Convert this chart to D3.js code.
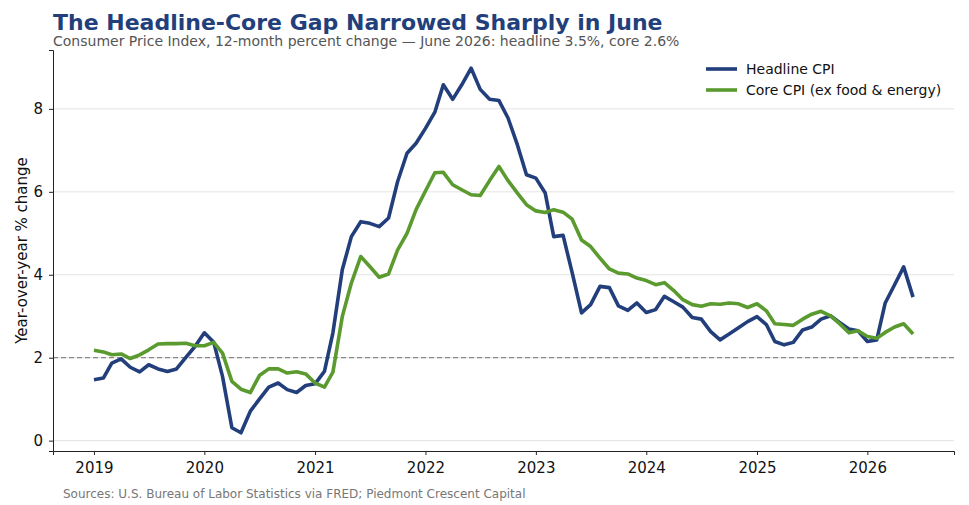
<!DOCTYPE html>
<html>
<head>
<meta charset="utf-8">
<script src="https://cdn.jsdelivr.net/npm/d3@7"></script>
<style>
  body { margin: 0; background: #fff; }
  svg text { font-family: "DejaVu Sans", sans-serif; }
</style>
</head>
<body>
<svg id="chart" width="969" height="505"></svg>
<script>
// monthly series, Jan 2019 .. Jun 2026
var startMonth = '2019-01';
var headline = [
  1.47, 1.51, 1.87, 1.97, 1.77, 1.66, 1.83, 1.73, 1.67, 1.73, 2.01, 2.27,
  2.60, 2.37, 1.55, 0.31, 0.19, 0.71, 1.00, 1.29, 1.39, 1.23, 1.16, 1.33,
  1.37, 1.67, 2.60, 4.12, 4.92, 5.28, 5.24, 5.16, 5.37, 6.25, 6.93, 7.17,
  7.53, 7.92, 8.58, 8.23, 8.58, 8.98, 8.47, 8.23, 8.20, 7.78, 7.13, 6.41,
  6.33, 5.97, 4.92, 4.95, 4.05, 3.08, 3.28, 3.72, 3.69, 3.25, 3.14, 3.32,
  3.09, 3.16, 3.48, 3.35, 3.22, 2.97, 2.93, 2.63, 2.43, 2.57, 2.72, 2.87,
  2.99, 2.80, 2.39, 2.31, 2.37, 2.67, 2.74, 2.93, 3.01, 2.85, 2.69, 2.65,
  2.39, 2.43, 3.32, 3.76, 4.19, 3.46
];
var core = [
  2.18, 2.14, 2.07, 2.09, 1.98, 2.07, 2.19, 2.33, 2.34, 2.34, 2.35, 2.29,
  2.29, 2.37, 2.11, 1.43, 1.24, 1.16, 1.57, 1.73, 1.73, 1.63, 1.66, 1.61,
  1.39, 1.29, 1.65, 2.99, 3.80, 4.44, 4.20, 3.94, 4.02, 4.60, 5.00, 5.57,
  6.02, 6.46, 6.47, 6.17, 6.05, 5.93, 5.91, 6.27, 6.61, 6.27, 5.97, 5.69,
  5.54, 5.50, 5.57, 5.51, 5.34, 4.84, 4.68, 4.40, 4.14, 4.04, 4.02, 3.92,
  3.86, 3.76, 3.81, 3.62, 3.40, 3.28, 3.24, 3.30, 3.29, 3.32, 3.30, 3.21,
  3.30, 3.13, 2.82, 2.80, 2.78, 2.93, 3.05, 3.12, 3.01, 2.82, 2.60, 2.65,
  2.51, 2.47, 2.61, 2.74, 2.82, 2.57
];
var yTicks = [0, 2, 4, 6, 8];
var xTickYears = [2019, 2020, 2021, 2022, 2023, 2024, 2025, 2026];
var target = 2;
var seriesNames = ['Headline CPI', 'Core CPI (ex food & energy)'];
var seriesColors = ['#233f7b', '#5a9a2f'];

var svg = d3.select('#chart');
var margin = {left: 53, right: 15, top: 50, bottom: 54};
var W = 969, H = 505;

var parseMonth = d3.timeParse('%Y-%m');
var t0 = parseMonth(startMonth);
var dates = headline.map(function (d, i) { return d3.timeMonth.offset(t0, i); });

// matplotlib-style 5% margins
var xExt = d3.extent(dates);
var xPad = (xExt[1] - xExt[0]) * 0.05;
var x = d3.scaleTime()
  .domain([new Date(+xExt[0] - xPad), new Date(+xExt[1] + xPad)])
  .range([margin.left, W - margin.right]);

var allVals = headline.concat(core);
var yMin = d3.min(allVals), yMax = d3.max(allVals);
var yPad = (yMax - yMin) * 0.05;
var y = d3.scaleLinear()
  .domain([yMin - yPad, yMax + yPad])
  .range([H - margin.bottom, margin.top]);

// grid
svg.append('g').selectAll('line').data(yTicks).enter().append('line')
  .attr('x1', margin.left).attr('x2', W - margin.right)
  .attr('y1', function (d) { return y(d); }).attr('y2', function (d) { return y(d); })
  .attr('stroke', '#e3e3e3').attr('stroke-width', 1);

// target line
svg.append('line')
  .attr('x1', margin.left).attr('x2', W - margin.right)
  .attr('y1', y(target)).attr('y2', y(target))
  .attr('stroke', '#888').attr('stroke-width', 1.3)
  .attr('stroke-dasharray', '5,3');

// lines
var series = [headline, core];
var line = d3.line()
  .x(function (d, i) { return x(dates[i]); })
  .y(function (d) { return y(d); });
series.forEach(function (s, k) {
  svg.append('path').datum(s)
    .attr('fill', 'none')
    .attr('stroke', seriesColors[k])
    .attr('stroke-width', 3.6)
    .attr('stroke-linejoin', 'round')
    .attr('d', line);
});

// axes
var xAxis = d3.axisBottom(x)
  .tickValues(xTickYears.map(function (yr) { return new Date(yr, 0, 1); }))
  .tickFormat(d3.timeFormat('%Y'))
  .tickSize(4).tickPadding(7);
var gx = svg.append('g').attr('transform', 'translate(0,' + (H - margin.bottom) + ')').call(xAxis);
gx.select('.domain').attr('stroke', '#222').attr('stroke-width', 1);

var yAxis = d3.axisLeft(y).tickValues(yTicks).tickSize(4).tickPadding(6);
var gy = svg.append('g').attr('transform', 'translate(' + margin.left + ',0)').call(yAxis);
gy.select('.domain').attr('stroke', '#222').attr('stroke-width', 1);

svg.selectAll('.tick text').attr('font-size', 15).attr('fill', '#111')
  .attr('font-family', '"DejaVu Sans", sans-serif');
svg.selectAll('.tick line').attr('stroke', '#222');

// y label
svg.append('text')
  .attr('transform', 'translate(27,' + ((margin.top + H - margin.bottom) / 2) + ') rotate(-90)')
  .attr('text-anchor', 'middle')
  .attr('font-size', 15).attr('fill', '#111')
  .text('Year-over-year % change');

// title + subtitle
svg.append('text').attr('x', 53).attr('y', 30)
  .attr('font-size', 22).attr('font-weight', 'bold').attr('fill', '#223f7c')
  .text('The Headline-Core Gap Narrowed Sharply in June');
svg.append('text').attr('x', 53).attr('y', 46)
  .attr('font-size', 14).attr('fill', '#555')
  .text('Consumer Price Index, 12-month percent change \u2014 June 2026: headline 3.5%, core 2.6%');

// legend
var lg = svg.append('g').attr('transform', 'translate(706,69)');
seriesNames.forEach(function (name, k) {
  var row = lg.append('g').attr('transform', 'translate(0,' + (k * 21) + ')');
  row.append('line').attr('x1', 0).attr('x2', 31).attr('y1', 0).attr('y2', 0)
    .attr('stroke', seriesColors[k]).attr('stroke-width', 3.6);
  row.append('text').attr('x', 40).attr('y', 5)
    .attr('font-size', 14).attr('fill', '#111').text(name);
});

// source
svg.append('text').attr('x', 63).attr('y', 498)
  .attr('font-size', 12).attr('fill', '#777')
  .text('Sources: U.S. Bureau of Labor Statistics via FRED; Piedmont Crescent Capital');
</script>
</body>
</html>
